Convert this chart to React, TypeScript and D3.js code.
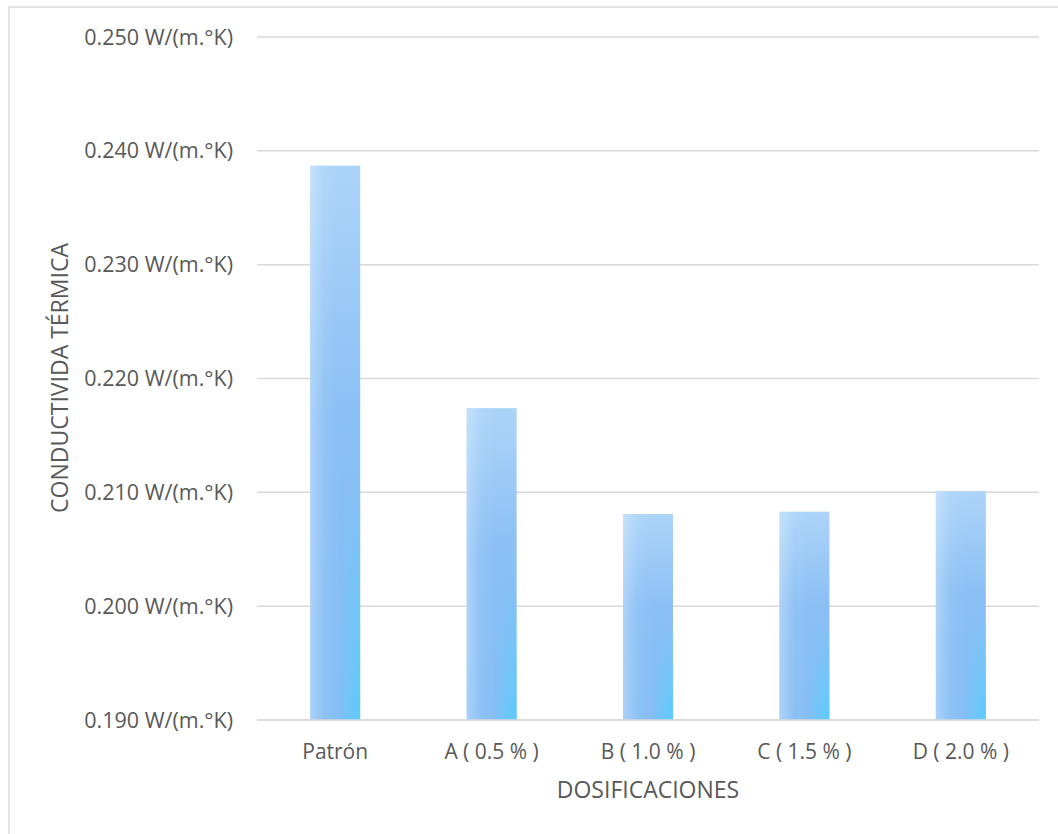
import React from "react";
import * as d3 from "d3";

const categories = ["Patrón", "A ( 0.5 % )", "B ( 1.0 % )", "C ( 1.5 % )", "D ( 2.0 % )"];
const values = [0.2387, 0.2174, 0.2081, 0.2083, 0.2101];
const yTicks = [0.19, 0.2, 0.21, 0.22, 0.23, 0.24, 0.25];
const yTitle = "CONDUCTIVIDA TÉRMICA";
const xTitle = "DOSIFICACIONES";

const W = 1058;
const H = 834;
const plot = { left: 257, right: 1039, top: 37, bottom: 720 };
const font = "'Open Sans', 'Noto Sans', sans-serif";
const textColor = "#595959";

export default function App() {
  const x = d3
    .scaleBand<string>()
    .domain(categories)
    .range([plot.left, plot.right])
    .paddingInner(0.68)
    .paddingOuter(0.34);
  const y = d3.scaleLinear().domain([0.19, 0.25]).range([plot.bottom, plot.top]);
  const fmt = d3.format(".3f");

  return (
    <svg
      width={W}
      height={H}
      style={{ position: "absolute", left: 0, top: 0, background: "#fff" }}
    >
      <defs>
        <linearGradient id="gv" x1="0" y1="0" x2="0" y2="1">
          <stop offset="0" stopColor="#acd4f9" />
          <stop offset="0.45" stopColor="#8bc0f5" />
          <stop offset="1" stopColor="#86bef5" />
        </linearGradient>
        <linearGradient id="gh" x1="0" y1="0" x2="1" y2="0">
          <stop offset="0" stopColor="#ffffff" stopOpacity="0.3" />
          <stop offset="0.3" stopColor="#ffffff" stopOpacity="0.05" />
          <stop offset="0.6" stopColor="#ffffff" stopOpacity="0" />
          <stop offset="1" stopColor="#ffffff" stopOpacity="0" />
        </linearGradient>
        <linearGradient id="gc" x1="0" y1="0" x2="1" y2="0">
          <stop offset="0" stopColor="#5accfc" stopOpacity="0" />
          <stop offset="0.55" stopColor="#5accfc" stopOpacity="0" />
          <stop offset="1" stopColor="#5accfc" stopOpacity="1" />
        </linearGradient>
        <linearGradient id="gm" x1="0" y1="0" x2="0" y2="1">
          <stop offset="0" stopColor="#000" />
          <stop offset="0.55" stopColor="#000" />
          <stop offset="1" stopColor="#fff" />
        </linearGradient>
        <mask id="mk" maskContentUnits="objectBoundingBox">
          <rect x={0} y={0} width={1} height={1} fill="url(#gm)" />
        </mask>
      </defs>
      <rect x={9} y={7} width={W} height={H} fill="#fff" stroke="#d9d9d9" strokeWidth={1.5} />
      {yTicks.map((t) => (
        <g key={t}>
          <line
            x1={plot.left}
            x2={plot.right}
            y1={y(t)}
            y2={y(t)}
            stroke="#d9d9d9"
            strokeWidth={1.5}
          />
          <text
            x={233}
            y={y(t)}
            dy="0.35em"
            textAnchor="end"
            fontFamily={font}
            fontSize={21.5}
            fill={textColor}
          >
            {fmt(t)} W/(m.°K)
          </text>
        </g>
      ))}
      {categories.map((c, i) => {
        const bx = x(c)!;
        const by = y(values[i]);
        const bh = plot.bottom - by;
        return (
          <g key={c}>
            <rect x={bx} y={by} width={x.bandwidth()} height={bh} fill="url(#gv)" />
            <rect x={bx} y={by} width={x.bandwidth()} height={bh} fill="url(#gh)" />
            <rect
              x={bx}
              y={by}
              width={x.bandwidth()}
              height={bh}
              fill="url(#gc)"
              mask="url(#mk)"
            />
            <text
              x={bx + x.bandwidth() / 2}
              y={752}
              dy="0.35em"
              textAnchor="middle"
              fontFamily={font}
              fontSize={21}
              fill={textColor}
            >
              {c}
            </text>
          </g>
        );
      })}
      <line
        x1={plot.left}
        x2={plot.right}
        y1={plot.bottom}
        y2={plot.bottom}
        stroke="#d9d9d9"
        strokeWidth={1.5}
      />
      <text
        x={(plot.left + plot.right) / 2}
        y={790}
        dy="0.35em"
        textAnchor="middle"
        fontFamily={font}
        fontSize={23}
        fill={textColor}
      >
        {xTitle}
      </text>
      <text
        transform={`translate(${60},${378}) rotate(-90)`}
        dy="0.35em"
        textAnchor="middle"
        fontFamily={font}
        fontSize={23}
        fill={textColor}
      >
        {yTitle}
      </text>
    </svg>
  );
}
